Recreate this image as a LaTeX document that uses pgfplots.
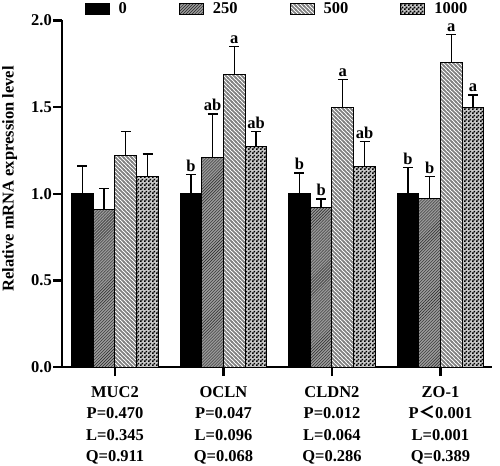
\documentclass[border=0pt]{standalone}
\usepackage{fontspec}
\setmainfont{Liberation Serif}
\newfontfamily\cjk{Noto Sans CJK SC}
\usepackage{pgfplots}
\pgfplotsset{compat=1.18}
\usepackage{pgfplotstable}
\usetikzlibrary{patterns}

\pgfdeclarepatternformonly{nwlines}{\pgfpoint{-1bp}{-1bp}}{\pgfpoint{5bp}{5bp}}{\pgfpoint{4bp}{4bp}}{%
  \pgfsetlinewidth{1.6bp}%
  \pgfpathmoveto{\pgfpoint{-1bp}{5bp}}\pgfpathlineto{\pgfpoint{5bp}{-1bp}}\pgfusepath{stroke}}
\pgfdeclarepatternformonly{finecheck}{\pgfpointorigin}{\pgfpoint{4bp}{4bp}}{\pgfpoint{4bp}{4bp}}{%
  \pgfpathrectangle{\pgfpointorigin}{\pgfpoint{2bp}{2bp}}%
  \pgfpathrectangle{\pgfpoint{2bp}{2bp}}{\pgfpoint{2bp}{2bp}}%
  \pgfusepath{fill}}

\pgfplotsset{ybar legend/.style={legend image code/.code={%
  \draw[##1] (0bp,-5.5bp) rectangle (24bp,5.5bp);}}}

% x = gene index, y = mean, ep = upper error, lbl = significance letter
\pgfplotstableread{
x y ep lbl
0 1.00 0.16 {}
1 1.00 0.11 b
2 1.00 0.12 b
3 1.00 0.15 b
}\tA
\pgfplotstableread{
x y ep lbl
0 0.91 0.12 {}
1 1.21 0.25 ab
2 0.92 0.05 b
3 0.97 0.13 b
}\tB
\pgfplotstableread{
x y ep lbl
0 1.22 0.14 {}
1 1.69 0.16 a
2 1.50 0.16 a
3 1.76 0.16 a
}\tC
\pgfplotstableread{
x y ep lbl
0 1.10 0.13 {}
1 1.27 0.09 ab
2 1.16 0.14 ab
3 1.50 0.07 a
}\tD

\newcommand{\bigfont}{\bfseries\fontsize{16.5bp}{19bp}\selectfont}

\begin{document}
\begin{tikzpicture}
\useasboundingbox (-62bp,-99bp) rectangle (438bp,367bp);
\begin{axis}[
  scale only axis, width=430bp, height=346.5bp,
  xmin=-0.4885, xmax=3.475, ymin=0, ymax=2,
  ybar=0pt, bar width=0.2,
  axis x line=bottom, axis y line=left,
  axis line style={-, line width=2.5bp, black},
  tick style={line width=2.5bp, black},
  major tick length=9bp, tick align=outside,
  xtick={0,1,2,3},
  xticklabels={{MUC2\\P=0.470\\L=0.345\\Q=0.911},
               {OCLN\\P=0.047\\L=0.096\\Q=0.068},
               {CLDN2\\P=0.012\\L=0.064\\Q=0.286},
               {ZO-1\\P{\cjk ＜}0.001\\L=0.001\\Q=0.389}},
  xticklabel style={align=center, font=\bfseries\fontsize{16.5bp}{21.5bp}\selectfont, yshift=-7bp},
  ytick={0,0.5,1,1.5,2},
  /pgf/number format/assume math mode=true,
  yticklabel style={font=\bigfont, inner sep=1bp, /pgf/number format/.cd, fixed, fixed zerofill, precision=1},
  ylabel={Relative mRNA expression level},
  every axis y label/.style={at={(axis description cs:-0.1215,0.5426)}, rotate=90, anchor=center, font=\bigfont},
  legend columns=4,
  legend style={at={(axis description cs:0.5,1)}, anchor=south, draw=none, fill=none,
     inner sep=0pt, yshift=3bp, font=\bigfont,
     /tikz/every odd column/.append style={column sep=7bp},
     /tikz/every even column/.append style={column sep=50bp}},
  nodes near coords, point meta=explicit symbolic,
  visualization depends on={\thisrow{ep} \as \eplus},
  nodes near coords style={font=\bigfont, anchor=south, inner sep=2.5bp, text=black, yshift=\eplus*173.25bp},
  every axis plot/.append style={line width=1bp},
  error bars/y dir=plus, error bars/y explicit,
  error bars/error bar style={line width=1.3bp, black, solid},
  error bars/error mark options={rotate=90, mark size=5bp, line width=1.3bp, black},
]
\addplot[fill=black, draw=black] table[x=x, y=y, y error=ep, meta=lbl] {\tA};
\addplot[draw=black, preaction={fill=black!40}, pattern=north east lines, pattern color=black!85] table[x=x, y=y, y error=ep, meta=lbl] {\tB};
\addplot[draw=black, preaction={fill=white}, pattern=nwlines, pattern color=black!50] table[x=x, y=y, y error=ep, meta=lbl] {\tC};
\addplot[draw=black, preaction={fill=black!22}, pattern=finecheck, pattern color=black] table[x=x, y=y, y error=ep, meta=lbl] {\tD};
\legend{0,250,500,1000}
\end{axis}
\end{tikzpicture}
\end{document}
